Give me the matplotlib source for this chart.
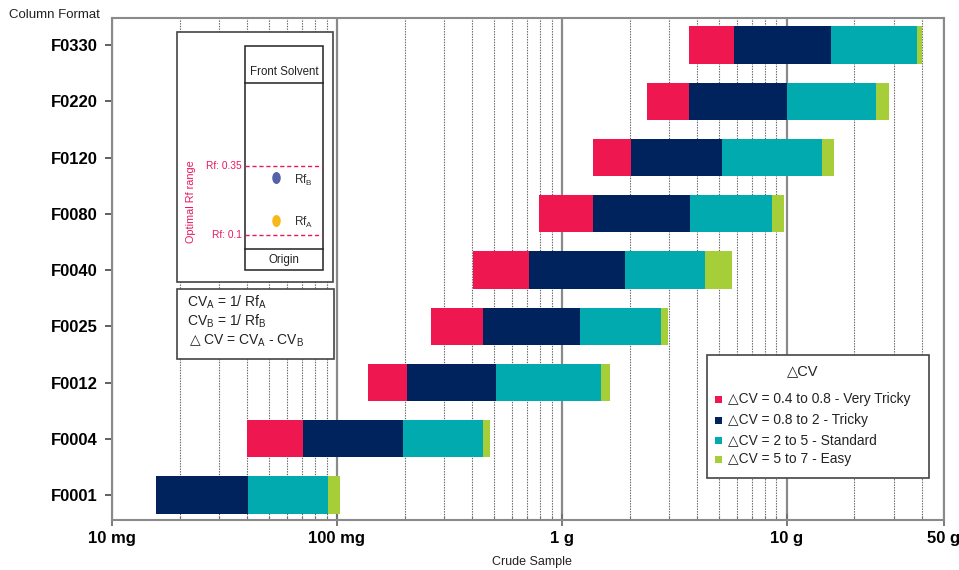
import numpy as np
import matplotlib
matplotlib.use("Agg")
import matplotlib.pyplot as plt
from matplotlib.patches import Rectangle, Ellipse
from matplotlib.ticker import LogLocator, NullFormatter

plt.rcParams['font.family'] = ['Liberation Sans', 'DejaVu Sans']

# ---- data (grams) ----
categories = ['F0001', 'F0004', 'F0012', 'F0025', 'F0040',
              'F0080', 'F0120', 'F0220', 'F0330']
very_tricky_from = [0.0157, 0.0400, 0.138, 0.263, 0.404, 0.795, 1.37, 2.40, 3.66]
tricky_from      = [0.0157, 0.0708, 0.205, 0.448, 0.718, 1.37, 2.02, 3.66, 5.80]
standard_from    = [0.0402, 0.197, 0.512, 1.20, 1.90, 3.70, 5.13, 10.0, 15.8]
easy_from        = [0.0915, 0.448, 1.49, 2.77, 4.31, 8.57, 14.3, 24.9, 37.9]
easy_to          = [0.1035, 0.481, 1.63, 2.95, 5.69, 9.69, 16.2, 28.4, 39.8]

series_labels = ['\u25b3CV = 0.4 to 0.8 - Very Tricky',
                 '\u25b3CV = 0.8 to 2 - Tricky',
                 '\u25b3CV = 2 to 5 - Standard',
                 '\u25b3CV = 5 to 7 - Easy']
series_colors = ['#EE1750', '#00235D', '#00AAAE', '#A6CE39']

xtick_values = [0.01, 0.1, 1, 10, 50]
xtick_labels = ['10 mg', '100 mg', '1 g', '10 g', '50 g']

# ---- figure ----
W, H = 959, 570
fig = plt.figure(figsize=(W / 100, H / 100), dpi=100)
L, R, T, B = 112, 944, 18, 520
ax = fig.add_axes([L / W, 1 - B / H, (R - L) / W, (B - T) / H])

y = np.arange(len(categories))
bounds = [very_tricky_from, tricky_from, standard_from, easy_from, easy_to]
for i in range(4):
    left = np.array(bounds[i])
    right = np.array(bounds[i + 1])
    ax.barh(y, right - left, left=left, height=0.66, color=series_colors[i],
            label=series_labels[i], zorder=3, linewidth=0)

ax.set_xscale('log')
ax.set_xlim(0.01, 50)
ax.set_ylim(-0.444, 8.48)
ax.set_yticks(y)
ax.set_yticklabels(categories, fontsize=12, fontweight='bold')
ax.set_xticks(xtick_values)
ax.set_xticklabels(xtick_labels, fontsize=12, fontweight='bold')
ax.xaxis.set_minor_locator(LogLocator(base=10, subs=np.arange(2, 10)))
ax.xaxis.set_minor_formatter(NullFormatter())

ax.tick_params(axis='x', which='major', direction='inout', length=8, width=1.3,
               color='#707070', pad=4)
ax.tick_params(axis='x', which='minor', direction='in', length=3, width=0.8,
               color='#707070')
ax.tick_params(axis='y', which='major', direction='out', length=5, width=1.2,
               color='#444444', pad=5)

for s in ax.spines.values():
    s.set_color('#8a8a8a')
    s.set_linewidth(1.5)

ax.set_axisbelow(True)
ax.grid(True, axis='x', which='minor', linestyle=(0, (1.2, 1.2)), linewidth=0.8,
        color='#606060')
ax.grid(True, axis='x', which='major', linestyle='-', linewidth=1.6,
        color='#8a8a8a')
ax.grid(False, axis='y')

ax.set_xlabel('Crude Sample', fontsize=9, color='#222222')
ax.xaxis.set_label_coords((532 - L) / (R - L), -(556 - B) / (B - T))
ax.set_ylabel('Column Format', fontsize=9.5, rotation=0, ha='left', va='center',
              color='#222222')
ax.yaxis.set_label_coords(-(L - 9) / (R - L), 1 + (T - 15) / (B - T))

# ---- overlay for annotation boxes (pixel coordinates) ----
ov = fig.add_axes([0, 0, 1, 1], zorder=5)
ov.set_xlim(0, W)
ov.set_ylim(H, 0)
ov.axis('off')
ov.patch.set_alpha(0)

edge = '#444444'
pink = '#E8195A'
# TLC plate box
ov.add_patch(Rectangle((177, 32), 156, 250, facecolor='white', edgecolor=edge, lw=1.2))
ov.add_patch(Rectangle((245, 46), 78, 224, facecolor='white', edgecolor='#222222', lw=1.1))
ov.plot([245, 323], [83, 83], color='#222222', lw=1.1)
ov.plot([245, 323], [249, 249], color='#222222', lw=1.1)
ov.text(284, 72, 'Front Solvent', ha='center', va='center', fontsize=8.3, color='#222222')
ov.text(284, 260, 'Origin', ha='center', va='center', fontsize=8.3, color='#222222')
ov.plot([245, 323], [166, 166], color=pink, lw=1.0, ls=(0, (3, 2)))
ov.plot([245, 323], [235, 235], color=pink, lw=1.0, ls=(0, (3, 2)))
ov.text(242, 166, 'Rf: 0.35', ha='right', va='center', fontsize=7.3, color=pink)
ov.text(242, 235, 'Rf: 0.1', ha='right', va='center', fontsize=7.3, color=pink)
ov.text(191, 202, 'Optimal Rf range', ha='center', va='center', rotation=90,
        fontsize=7.8, color=pink)
ov.add_patch(Ellipse((276.5, 178), 8.5, 12, facecolor='#5561A9', edgecolor='none'))
ov.add_patch(Ellipse((276.5, 221), 8.5, 12, facecolor='#F8B81A', edgecolor='none'))
ov.text(294, 180, r'Rf$_\mathregular{B}$', ha='left', va='center', fontsize=8.5, color='#333333')
ov.text(294, 222, r'Rf$_\mathregular{A}$', ha='left', va='center', fontsize=8.5, color='#333333')

# CV formula box
ov.add_patch(Rectangle((177, 289), 157, 70, facecolor='white', edgecolor=edge, lw=1.2))
ov.text(187, 302, r'CV$_\mathregular{A}$ = 1/ Rf$_\mathregular{A}$', ha='left', va='center',
        fontsize=10, color='#222222')
ov.text(187, 321, r'CV$_\mathregular{B}$ = 1/ Rf$_\mathregular{B}$', ha='left', va='center',
        fontsize=10, color='#222222')
ov.text(187, 341, r'$\triangle$CV = CV$_\mathregular{A}$ - CV$_\mathregular{B}$',
        ha='left', va='center', fontsize=10, color='#222222')

# legend box
ov.add_patch(Rectangle((707, 355), 222, 123, facecolor='white', edgecolor=edge, lw=1.2))
ov.text(803, 371, '\u25b3CV', ha='center', va='center', fontsize=10.5, color='#222222')
rows = [399.5, 420, 440, 459.5]
for lab, col, yy in zip(series_labels, series_colors, rows):
    ov.add_patch(Rectangle((715, yy - 3.5), 7, 7, facecolor=col, edgecolor='none'))
    ov.text(728, yy, lab, ha='left', va='center', fontsize=9.9, color='#222222')

fig.savefig('out.png', dpi=100)
